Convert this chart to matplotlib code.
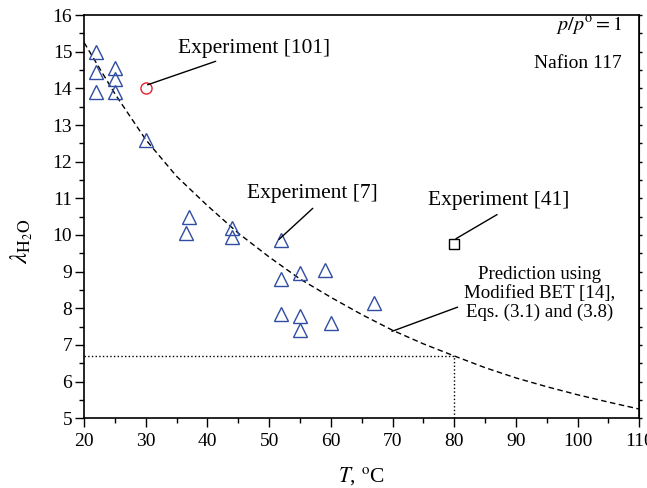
import matplotlib
matplotlib.use('Agg')
import matplotlib.pyplot as plt
from matplotlib.ticker import MultipleLocator

plt.rcParams['font.family'] = 'Liberation Serif'
plt.rcParams['mathtext.fontset'] = 'stix'

# experiment [7]
t_exp7 = [22, 22, 22, 25, 25, 25, 30, 37, 36.5, 44, 44, 52, 52, 55, 59, 52, 55, 55, 60, 67]
lam_exp7 = [15.0, 14.45, 13.9, 14.55, 14.25, 13.9, 12.6, 10.5, 10.05, 10.2, 9.95,
            9.85, 8.8, 8.95, 9.05, 7.85, 7.8, 7.4, 7.6, 8.15]
# experiment [101] and [41]
t_exp101, lam_exp101 = [30], [14.0]
t_exp41, lam_exp41 = [80], [9.75]
# modified BET prediction
t_pred = [20, 25, 30, 35, 40, 45, 50, 55, 60, 65, 70, 75, 80, 85, 90, 95, 100, 105, 110]
lam_pred = [15.25, 13.85, 12.6, 11.6, 10.8, 10.05, 9.4, 8.8, 8.3, 7.83, 7.4, 7.03, 6.7,
            6.38, 6.1, 5.86, 5.64, 5.44, 5.25]
t_op, lam_op = 80, 6.7

fig = plt.figure(figsize=(6.47, 4.88), dpi=100)
ax = fig.add_axes([0.13, 0.143, 0.858, 0.826])

ax.plot(t_pred, lam_pred, 'k--', lw=1.0, dashes=(4, 2.5))
ax.plot([20, t_op], [lam_op, lam_op], 'k:', lw=1.0)
ax.plot([t_op, t_op], [5, lam_op], 'k:', lw=1.0)
ax.plot(t_exp7, lam_exp7, '^', ms=10, mfc='none', mec='#2f4ea3', mew=1.0)
ax.plot(t_exp101, lam_exp101, 'o', ms=8, mfc='none', mec='#e8202a', mew=1.0)
ax.plot(t_exp41, lam_exp41, 's', ms=6.5, mfc='none', mec='k', mew=1.0)

fs = 15.5
ax.annotate('Experiment [101]', xy=(30.3, 14.1), xytext=(35.2, 15.1), fontsize=fs,
            va='center', ha='left', arrowprops=dict(arrowstyle='-', lw=1.0, shrinkA=2, shrinkB=0))
ax.annotate('Experiment [7]', xy=(51.6, 9.88), xytext=(46.4, 11.14), fontsize=fs,
            va='center', ha='left', arrowprops=dict(arrowstyle='-', lw=1.0, relpos=(0.55, 0), shrinkA=3, shrinkB=0))
ax.annotate('Experiment [41]', xy=(80.3, 9.9), xytext=(75.7, 10.95), fontsize=fs,
            va='center', ha='left', arrowprops=dict(arrowstyle='-', lw=1.0, relpos=(0.55, 0), shrinkA=3, shrinkB=0))
ax.annotate('Prediction using\nModified BET [14],\nEqs. (3.1) and (3.8)', xy=(69.9, 7.37),
            xytext=(93.9, 8.40), fontsize=13.6, va='center', ha='center', linespacing=1.15,
            arrowprops=dict(arrowstyle='-', lw=1.0, relpos=(0, 0.3), shrinkA=3, shrinkB=0))
ax.text(107.2, 15.7, r'$p/p^{\rm o} = 1$', fontsize=14.5, ha='right', va='center')
ax.text(107.2, 14.69, 'Nafion 117', fontsize=14, ha='right', va='center')

ax.set_xlim(20, 110)
ax.set_ylim(5, 16)
ax.xaxis.set_major_locator(MultipleLocator(10))
ax.xaxis.set_minor_locator(MultipleLocator(5))
ax.yaxis.set_major_locator(MultipleLocator(1))
ax.yaxis.set_minor_locator(MultipleLocator(0.5))
ax.tick_params(which='both', direction='out', labelsize=14, width=1.0)
ax.tick_params(which='major', length=6.5)
ax.tick_params(which='minor', length=3.6)
ax.tick_params(axis='y', pad=2)
ax.tick_params(axis='x', pad=4)
for s in ax.spines.values():
    s.set_linewidth(1.2)
# short ticks on the right spine
ax2 = ax.secondary_yaxis('right')
ax2.yaxis.set_major_locator(MultipleLocator(0.5))
ax2.tick_params(direction='out', length=2.2, width=1.0, labelright=False)

ax.set_xlabel(r'$T$, $^{\rm o}$C', fontsize=15.5, labelpad=11)
ax.set_ylabel(r'$\lambda_{\rm H_2O}$', fontsize=18)
ax.yaxis.set_label_coords(-0.088, 0.44)

fig.savefig('out.png', dpi=100)
